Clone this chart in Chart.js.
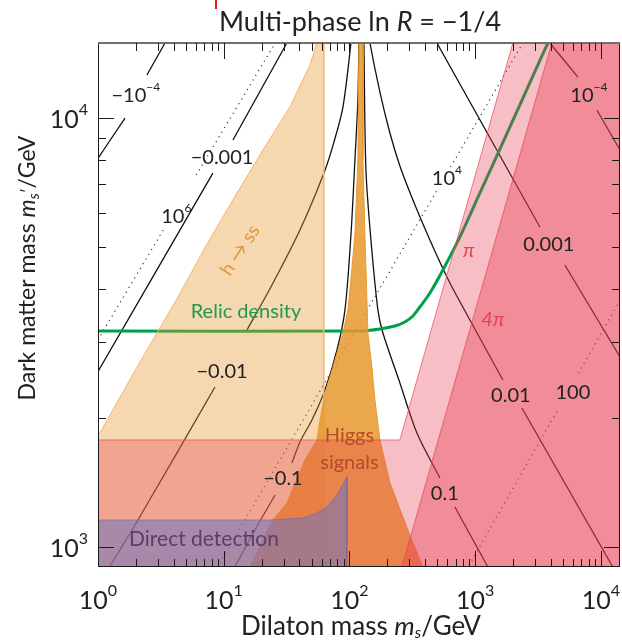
<!DOCTYPE html>
<html lang="en">
<head>
<meta charset="UTF-8" />
<title>Multi-phase ln R = -1/4</title>
<script src="https://cdn.jsdelivr.net/npm/chart.js"></script>
<style>
  html, body { margin: 0; padding: 0; background: #fff; }
  canvas { display: block; }
</style>
</head>
<body>
<canvas id="chart" width="622" height="642"></canvas>
<script>
  // axis ranges (GeV)
  const xMin = 1, xMax = 14200;
  const yMin = 898, yMax = 14960;

  // tick decades and their exponents
  const xDecades = [1, 10, 100, 1000, 10000];
  const xExponents = ['0', '1', '2', '3', '4'];
  const yDecades = [1000, 10000];
  const yExponents = ['3', '4'];

  // shaded regions, [m_s, m_s'] pairs
  const hssRegion = [[0.8, 800], [0.8, 1612], [1, 1814], [2.16, 2700], [4.33, 3827], [7.36, 5083], [12.75, 6687],
    [20.5, 8422], [33.6, 10607], [48.5, 13290], [55.1, 14960], [57, 16000], [62.5, 16000], [62.5, 800]];
  const higgsRegion = [[15.0, 880], [16.17, 898], [24.6, 1156], [31.8, 1266], [44.3, 1595], [55.1, 1776], [58.3, 1977],
    [63.9, 2286], [73.9, 2628], [88.8, 3153], [97.3, 3567], [100.9, 3972], [110.6, 5338], [116.8, 7982], [119.0, 14960],
    [119.5, 16000], [128.0, 16000], [128.0, 7982], [132.8, 5338], [137.8, 3766], [140.3, 3153], [151.0, 2628],
    [159.5, 2201], [174.8, 1776], [209.9, 1410], [266.3, 1175], [319.9, 1022], [384.3, 898], [408, 880]];
  const piRegion = [[0.8, 1776], [252, 1776], [1996, 14960], [2300, 17310], [20000, 17310], [20000, 800], [0.8, 800]];
  const fourPiRegion = [[220, 752], [261.5, 898], [4076, 14960], [4600, 16930], [20000, 16930], [20000, 752]];
  const directRegion = [[0.8, 1156], [23.3, 1156], [42.7, 1169], [55.1, 1200], [66.2, 1239], [79.6, 1322],
    [95.5, 1456], [95.5, 850], [0.8, 850]];

  // relic density curve
  const relicCurve = [[0.8, 3188], [121.2, 3188], [174.8, 3223], [230.1, 3275], [276, 3346], [319.9, 3456],
    [363.7, 3627], [436.7, 3910], [554.1, 4423], [756.3, 5281], [1091, 6687], [1573, 8467], [2228, 10607],
    [3097, 13150], [3789, 14960], [4308, 16210]];

  // mixing contours (null = gap under the label)
  const contourMinus4 = [[0.9, 7690], [1.64, 10000], null, [2.45, 12600], [3.41, 14960], [3.6, 15380]];
  const contourMinus3 = [[0.9, 2431], [8.2, 7440], null, [11.85, 8890], [31.8, 14960], [34, 15470]];
  const contourMinus2 = [[1.10, 851], [1.97, 1125], [8.52, 2360], null, [15.3, 3204], [24.2, 4081], [40.4, 5482],
    [62.7, 7443], [75.3, 8790], [88.8, 10607], [102.8, 14960], [104, 16000]];
  const contourMinus1 = [[10.8, 838], [17.7, 1095], [25.6, 1322], null, [34.9, 1570], [40.4, 1757], [50.3, 1977],
    [63.9, 2323], [79.6, 2879], [92.1, 3567], [102.8, 5338], [110.6, 7982], [116.8, 11015], [119.0, 14960], [119.3, 16000]];
  const contourPlus1 = [[130.2, 16000], [130.4, 14960], [135.3, 7563], [148.3, 5195], [168.5, 3567], [184.7, 3153],
    [252.1, 2412], [344.3, 1844], [524.5, 1448], null, [690.2, 1239], [1263, 898], [1359, 860]];
  const contourPlus2 = [[142, 16000], [145.6, 14960], [174.8, 11497], [209.9, 9228], [252.1, 7729], [319.9, 6441],
    [436.7, 5195], [596.2, 4260], [729, 3805], [1662, 2451], null, [2354, 2109], [12455, 898], [14200, 841]];
  const contourPlus3 = [[436.5, 16030], [496.5, 14960], [3273, 5572], null, [5172, 4543], [12455, 2957], [14200, 2773]];
  const contourPlus4 = [[3214, 16030], [3930, 14960], [6564, 12460], null, [9294, 10438], [14200, 8422]];

  // dotted contours (10^6, 10^4, 100)
  const dotted6 = [[0.9, 2888], [3.41, 5570], null, [6.04, 7364], [25.7, 14960], [28, 15590]];
  const dotted4 = [[8.0, 850], [499, 6796], null, [638, 7687], [2397, 14960], [2600, 15580]];
  const dotted2 = [[850, 883], [4624, 2109], null, [6650, 2544], [15000, 3864]];

  // contour labels: text, exponent, m_s, m_s'
  const contourLabels = [
    ['−10', '−4', 2.0, 11300],
    ['−0.001', '', 9.7, 8070],
    ['10', '6', 4.2, 5880],
    ['−0.01', '', 9.7, 2560],
    ['−0.1', '', 29.6, 1441],
    ['10', '4', 596, 7244],
    ['10', '−4', 8030, 11255],
    ['0.001', '', 3857, 5058],
    ['0.01', '', 1924, 2259],
    ['100', '', 5986, 2297],
    ['0.1', '', 574, 1329]
  ];

  const FONT = "Lato, 'Open Sans', sans-serif";
  const f = (size, style) => `${style || ''} ${size}px ${FONT}`;
  const pts = arr => arr.map(p => p ? { x: p[0], y: p[1] } : { x: null, y: null });

  function region(data, fill, edge, order) {
    return { data: pts(data), showLine: true, fill: 'shape', backgroundColor: fill, borderColor: edge,
      borderWidth: 1, pointRadius: 0, tension: 0, order };
  }
  function curve(data, color, width, dash, order) {
    return { data: pts(data), showLine: true, fill: false, borderColor: color, borderWidth: width,
      borderDash: dash, pointRadius: 0, tension: 0.3, spanGaps: false, order };
  }

  function drawRich(ctx, parts, x, y, align) {
    let w = 0;
    for (const p of parts) { ctx.font = p.font; w += ctx.measureText(p.t).width; }
    let cx = align === 'center' ? x - w / 2 : align === 'right' ? x - w : x;
    ctx.textAlign = 'left';
    ctx.textBaseline = 'middle';
    for (const p of parts) {
      ctx.font = p.font;
      ctx.fillText(p.t, cx, y + (p.dy || 0));
      cx += ctx.measureText(p.t).width;
    }
  }
  const pow = (base, exp, size) => exp
    ? [{ t: base, font: f(size) }, { t: exp, font: f(Math.round(size * 0.62)), dy: -size * 0.42 }]
    : [{ t: base, font: f(size) }];

  const decor = {
    id: 'decor',
    afterDatasetsDraw(chart) {
      const { ctx, chartArea: a, scales: { x, y } } = chart;
      ctx.save();

      // labels inside the plot
      ctx.fillStyle = '#222';
      for (const [t, e, mx, my] of contourLabels) {
        drawRich(ctx, pow(t, e, 20), x.getPixelForValue(mx), y.getPixelForValue(my), 'center');
      }
      ctx.fillStyle = '#1f9a52';
      drawRich(ctx, [{ t: 'Relic density', font: f(20) }], x.getPixelForValue(15.03), y.getPixelForValue(3530), 'center');
      ctx.fillStyle = '#e8404c';
      drawRich(ctx, [{ t: 'π', font: f(20, 'italic') }], x.getPixelForValue(891), y.getPixelForValue(4898), 'center');
      drawRich(ctx, [{ t: '4π', font: f(20, 'italic') }], x.getPixelForValue(1384), y.getPixelForValue(3382), 'center');
      ctx.fillStyle = '#b84a2a';
      drawRich(ctx, [{ t: 'Higgs', font: f(20) }], x.getPixelForValue(100), y.getPixelForValue(1814), 'center');
      drawRich(ctx, [{ t: 'signals', font: f(20) }], x.getPixelForValue(100), y.getPixelForValue(1570), 'center');
      ctx.fillStyle = '#5b3d6b';
      drawRich(ctx, [{ t: 'Direct detection', font: f(21) }], x.getPixelForValue(6.97), y.getPixelForValue(1044), 'center');
      ctx.save();
      ctx.translate(x.getPixelForValue(13.5), y.getPixelForValue(4920));
      ctx.rotate(-57 * Math.PI / 180);
      ctx.fillStyle = '#e0963c';
      drawRich(ctx, [{ t: 'h → ss', font: f(19) }], 0, 0, 'center');
      ctx.restore();

      // frame
      ctx.strokeStyle = '#1a1a1a';
      ctx.lineWidth = 1;
      ctx.strokeRect(a.left + 0.5, a.top + 0.5, a.right - a.left - 1, a.bottom - a.top - 1);
      ctx.strokeStyle = '#707070';
      ctx.lineWidth = 2;
      ctx.beginPath(); ctx.moveTo(a.left, a.top); ctx.lineTo(a.right, a.top); ctx.stroke();

      // inward ticks on all sides
      ctx.strokeStyle = '#1a1a1a';
      ctx.lineWidth = 1;
      const seg = (x1, y1, x2, y2) => { ctx.beginPath(); ctx.moveTo(x1, y1); ctx.lineTo(x2, y2); ctx.stroke(); };
      for (let d = 1; d <= 10000; d *= 10) {
        for (let m = 1; m < 10; m++) {
          const v = d * m;
          if (v < x.min || v > x.max) continue;
          const px = Math.round(x.getPixelForValue(v)) + 0.5;
          if (px < a.left + 2 || px > a.right - 2) continue;
          const len = m === 1 ? 16 : 8;
          seg(px, a.bottom, px, a.bottom - len);
          seg(px, a.top, px, a.top + len);
        }
      }
      for (let d = 100; d <= 10000; d *= 10) {
        for (let m = 1; m < 10; m++) {
          const v = d * m;
          if (v < y.min || v > y.max) continue;
          const py = Math.round(y.getPixelForValue(v)) + 0.5;
          if (py > a.bottom - 2 || py < a.top + 2) continue;
          const len = m === 1 ? 16 : 8;
          seg(a.left, py, a.left + len, py);
          seg(a.right, py, a.right - len, py);
        }
      }

      // tick labels
      ctx.fillStyle = '#222';
      xDecades.forEach((v, i) => drawRich(ctx, pow('10', xExponents[i], 25), x.getPixelForValue(v), a.bottom + 34, 'center'));
      yDecades.forEach((v, i) => drawRich(ctx, pow('10', yExponents[i], 25), a.left - 10, y.getPixelForValue(v) + 2, 'right'));

      // axis titles and title
      drawRich(ctx, [{ t: 'Dilaton mass ', font: f(26) }, { t: 'm', font: f(26, 'italic') },
        { t: 's', font: f(16, 'italic'), dy: 6 }, { t: '/GeV', font: f(26) }], 361, 627, 'center');
      ctx.save();
      ctx.translate(28, 268);
      ctx.rotate(-Math.PI / 2);
      drawRich(ctx, [{ t: 'Dark matter mass ', font: f(23) }, { t: 'm', font: f(23, 'italic') },
        { t: 's', font: f(15, 'italic'), dy: 6 }, { t: '′', font: f(15), dy: 0 }, { t: '/GeV', font: f(23) }], 0, 0, 'center');
      ctx.restore();
      drawRich(ctx, [{ t: 'Multi-phase ln ', font: f(27) }, { t: 'R', font: f(27, 'italic') },
        { t: ' = −1/4', font: f(27) }], 360, 22, 'center');
      ctx.fillStyle = '#e02020';
      ctx.fillRect(215, 0, 2, 9);
      ctx.restore();
    }
  };

  new Chart(document.getElementById('chart'), {
    type: 'scatter',
    data: {
      datasets: [
        region(directRegion, 'rgba(110,115,190,0.55)', 'rgba(110,100,170,0.6)', 4),
        region(fourPiRegion, 'rgba(232,60,80,0.38)', 'rgba(235,60,80,0.7)', 5),
        region(piRegion, 'rgba(232,60,80,0.33)', 'rgba(235,70,90,0.7)', 6),
        region(higgsRegion, 'rgba(231,152,47,0.86)', '#e89a30', 7),
        region(hssRegion, 'rgba(231,152,47,0.38)', '#f2b66a', 8),
        curve(relicCurve, '#00a04b', 3, [], 15),
        curve(contourMinus4, '#111', 1.3, [], 20),
        curve(contourMinus3, '#111', 1.3, [], 20),
        curve(contourMinus2, '#111', 1.3, [], 20),
        curve(contourMinus1, '#111', 1.3, [], 20),
        curve(contourPlus1, '#111', 1.3, [], 20),
        curve(contourPlus2, '#111', 1.3, [], 20),
        curve(contourPlus3, '#111', 1.3, [], 20),
        curve(contourPlus4, '#111', 1.3, [], 20),
        curve(dotted6, '#333', 1.2, [1.2, 4.3], 20),
        curve(dotted4, '#333', 1.2, [1.2, 4.3], 20),
        curve(dotted2, '#333', 1.2, [1.2, 4.3], 20)
      ]
    },
    options: {
      responsive: false,
      devicePixelRatio: 1,
      animation: false,
      layout: { padding: { left: 98, right: 2, top: 43, bottom: 75 } },
      scales: {
        x: { type: 'logarithmic', min: xMin, max: xMax, display: false },
        y: { type: 'logarithmic', min: yMin, max: yMax, display: false }
      },
      plugins: { legend: { display: false }, tooltip: { enabled: false } }
    },
    plugins: [decor]
  });
</script>
</body>
</html>
